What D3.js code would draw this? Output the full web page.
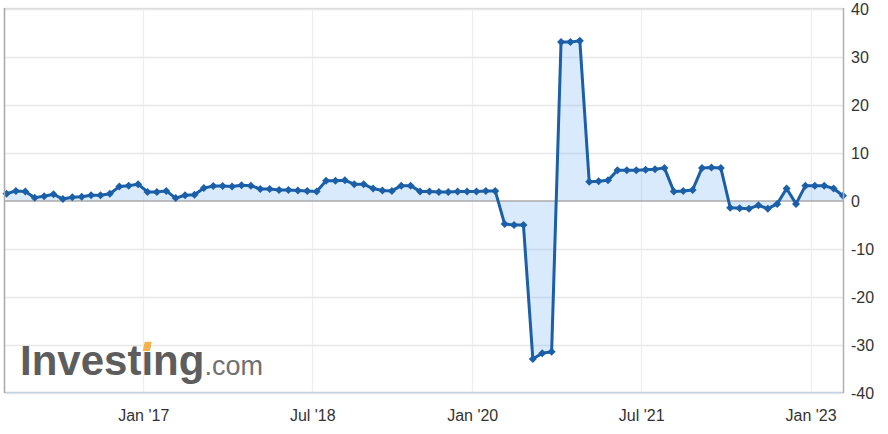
<!DOCTYPE html>
<html><head><meta charset="utf-8">
<script src="https://cdn.jsdelivr.net/npm/d3@7"></script>
<style>
html,body{margin:0;padding:0;background:#fff;}
svg{display:block;font-family:"Liberation Sans",Arial,Helvetica,sans-serif;}
</style></head><body>
<svg id="chart" width="888" height="434"></svg>
<script>
// ---- data ----
const months = [
 "2015-10","2015-11","2015-12",
 "2016-01","2016-02","2016-03","2016-04","2016-05","2016-06","2016-07","2016-08","2016-09","2016-10","2016-11","2016-12",
 "2017-01","2017-02","2017-03","2017-04","2017-05","2017-06","2017-07","2017-08","2017-09","2017-10","2017-11","2017-12",
 "2018-01","2018-02","2018-03","2018-04","2018-05","2018-06","2018-07","2018-08","2018-09","2018-10","2018-11","2018-12",
 "2019-02","2019-03","2019-04","2019-05","2019-06","2019-07","2019-08","2019-09","2019-10","2019-11","2019-12",
 "2020-01","2020-02","2020-03","2020-04","2020-05","2020-06","2020-07","2020-08","2020-09","2020-10","2020-11","2020-12",
 "2021-01","2021-02","2021-03","2021-04","2021-05","2021-06","2021-07","2021-08","2021-09","2021-10","2021-11","2021-12",
 "2022-01","2022-02","2022-03","2022-04","2022-05","2022-06","2022-07","2022-08","2022-09","2022-10","2022-11","2022-12",
 "2023-01","2023-02","2023-03","2023-04"
];
const values = [
 1.5, 2.1, 2.0,
 0.7, 1.0, 1.4, 0.4, 0.8, 0.9, 1.2, 1.2, 1.5, 3.0, 3.2, 3.5,
 1.9, 1.9, 2.1, 0.6, 1.2, 1.3, 2.7, 3.1, 3.1, 3.0, 3.3, 3.2,
 2.5, 2.5, 2.3, 2.3, 2.2, 2.1, 2.0, 4.2, 4.2, 4.3, 3.5, 3.5,
 2.6, 2.2, 2.1, 3.2, 3.2, 2.0, 2.0, 1.9, 1.9, 2.0, 2.0,
 2.0, 2.1, 2.1, -4.8, -5.0, -5.0, -32.9, -31.7, -31.4, 33.1, 33.1, 33.4,
 4.0, 4.1, 4.3, 6.4, 6.4, 6.4, 6.5, 6.6, 6.9, 2.0, 2.1, 2.3,
 6.9, 7.0, 6.9, -1.4, -1.5, -1.6, -0.9, -1.6, -0.6, 2.6, -0.6, 3.2,
 3.2, 3.2, 2.6, 1.1
];
const xTickDates = ["2017-01-01","2018-07-01","2020-01-01","2021-07-01","2023-01-01"];
const xTickLabels = ["Jan '17","Jul '18","Jan '20","Jul '21","Jan '23"];
const yTicks = [-40,-30,-20,-10,0,10,20,30,40];

// ---- layout ----
const plot = {left:5, right:843, top:9, bottom:393};
const svg = d3.select("#chart");

const parse = d3.utcParse("%Y-%m-%d");
const dates = months.map(m => parse(m + "-15"));
const data = dates.map((d,i) => ({date:d, value:values[i]}));

// ordinal (Highstock-like) x axis: points equally spaced, time ticks interpolated
const xIdx = d3.scaleLinear().domain([0, dates.length-1]).range([6.5, plot.right]);
const x = d3.scaleUtc().domain(dates).range(dates.map((d,i)=>xIdx(i)));
const y = d3.scaleLinear().domain([-40,40]).range([plot.bottom, plot.top]);

const tickDates = xTickDates.map(parse);

// gridlines
const grid = svg.append("g");
grid.selectAll("line.h").data(yTicks.filter(v=>v!==0)).join("line")
  .attr("x1", plot.left).attr("x2", plot.right)
  .attr("y1", d=>Math.round(y(d))+0.5).attr("y2", d=>Math.round(y(d))+0.5)
  .attr("stroke", "#e8e8e8").attr("stroke-width", 1.5);
grid.selectAll("line.v").data(tickDates).join("line")
  .attr("x1", d=>Math.round(x(d))+0.5).attr("x2", d=>Math.round(x(d))+0.5)
  .attr("y1", plot.top).attr("y2", plot.bottom)
  .attr("stroke", "#eeeeee").attr("stroke-width", 1.3);

// watermark
const wm = svg.append("text").attr("x", 20).attr("y", 375);
wm.append("tspan").attr("font-size", 42).attr("font-weight", "bold")
  .attr("fill", "#5d5d5d").text("Investing");
wm.append("tspan").attr("font-size", 27).attr("fill", "#707070").text(".com");
// orange dot of the "i"
{
  const node = wm.node().firstChild;
  try {
    const ext = node.getExtentOfChar(6);
    const cx = ext.x + ext.width/2 - 0.5;
    const top = 375 - 0.79*42, bot = 375 - 0.57*42;
    svg.append("path")
      .attr("d", `M${cx-2},${top} L${cx+5},${top} L${cx+3},${bot} L${cx-4},${bot} Z`)
      .attr("fill", "#f6b24b");
  } catch(e) {}
}

// area
const area = d3.area().x(d=>x(d.date)).y0(y(0)).y1(d=>y(d.value));
svg.append("path").datum(data).attr("d", area)
  .attr("fill", "rgba(116,178,245,0.27)");

// zero line
svg.append("line").attr("x1", plot.left).attr("x2", plot.right)
  .attr("y1", y(0)).attr("y2", y(0))
  .attr("stroke", "#aaaaaa").attr("stroke-width", 1.5);

// series line
const line = d3.line().x(d=>x(d.date)).y(d=>y(d.value));
svg.append("path").datum(data).attr("d", line)
  .attr("fill", "none").attr("stroke", "#1a5fa7").attr("stroke-width", 3)
  .attr("stroke-linejoin", "round");

// diamond markers
const diamond = { draw(ctx, size){ const r = Math.sqrt(size/2);
  ctx.moveTo(0,-r); ctx.lineTo(r,0); ctx.lineTo(0,r); ctx.lineTo(-r,0); ctx.closePath(); } };
svg.append("g").selectAll("path").data(data).join("path")
  .attr("transform", d=>`translate(${x(d.date)},${y(d.value)})`)
  .attr("d", d3.symbol().type(diamond).size(32))
  .attr("fill", "#1a5fa7");

// borders
svg.append("line").attr("x1", plot.left).attr("x2", plot.right).attr("y1", plot.top-0.5).attr("y2", plot.top-0.5)
  .attr("stroke", "#dddddd").attr("stroke-width", 1.5);
svg.append("line").attr("x1", plot.left).attr("x2", plot.right+1).attr("y1", plot.bottom-0.5).attr("y2", plot.bottom-0.5)
  .attr("stroke", "#c5d3e3").attr("stroke-width", 1.5);
svg.append("line").attr("x1", plot.left-0.5).attr("x2", plot.left-0.5).attr("y1", plot.top-1).attr("y2", plot.bottom)
  .attr("stroke", "#a8a8a8").attr("stroke-width", 1.5);
svg.append("line").attr("x1", plot.right+0.5).attr("x2", plot.right+0.5).attr("y1", plot.top-1).attr("y2", plot.bottom)
  .attr("stroke", "#b0b0b0").attr("stroke-width", 1.5);

// axes
const yAxis = d3.axisRight(y).tickValues(yTicks).tickSize(0).tickPadding(8).tickFormat(d => String(d));
const gy = svg.append("g").attr("transform", `translate(${plot.right},0)`).call(yAxis);
gy.select(".domain").remove();
gy.selectAll("text").attr("font-size", 16).attr("font-family", "Liberation Sans, Arial, sans-serif").attr("fill", "#333");

const xAxis = d3.axisBottom(x).tickValues(tickDates).tickSize(0).tickPadding(17)
  .tickFormat((d,i)=>xTickLabels[i]);
const gx = svg.append("g").attr("transform", `translate(0,${plot.bottom})`).call(xAxis);
gx.select(".domain").remove();
gx.selectAll("text").attr("font-size", 16).attr("font-family", "Liberation Sans, Arial, sans-serif").attr("fill", "#333");
</script>
</body></html>
